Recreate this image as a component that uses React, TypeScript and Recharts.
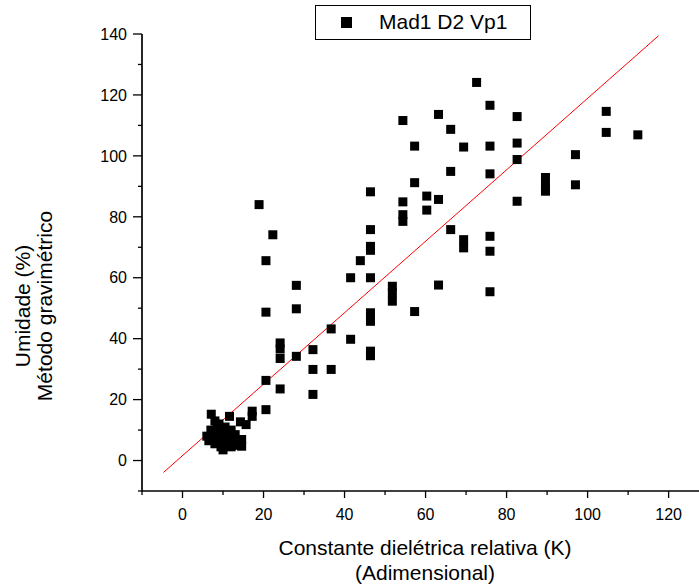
import { ScatterChart, Scatter, XAxis, YAxis, Label, Legend } from 'recharts';

const FONT = 'Arial, "Liberation Sans", sans-serif';

// Constante dielétrica relativa (K)
const kValues = [
  7.1, 11.6, 8, 9, 14.3, 15.7, 17.2, 17.2, 20.6,
  6, 6.5, 7, 7.5, 8, 8, 8.5, 9, 9.5, 9.5, 10, 10, 10.5, 10.5, 11, 11, 11.5, 12, 12, 12.5, 13, 13.5, 14.6, 14.6,
  18.9, 22.3, 20.6, 20.6, 28.1, 28.1, 20.6, 24.1, 24.1, 24.1, 24.1, 28.1, 32.2, 32.2, 32.2,
  36.7, 36.7, 41.5, 41.5, 43.9, 46.4, 46.4, 46.4, 46.4, 46.4, 46.4, 46.4, 46.4, 46.4,
  51.8, 51.8, 51.8, 54.4, 54.4, 54.4, 54.4, 57.3, 57.3, 57.3, 60.3, 60.3, 63.2, 63.2, 63.2,
  66.2, 66.2, 66.2, 69.4, 69.4, 69.4, 72.6, 75.9, 75.9, 75.9, 75.9, 75.9, 75.9,
  82.6, 82.6, 82.6, 82.6, 89.6, 89.6, 89.6, 97, 97, 104.6, 104.6, 112.4,
];

// Umidade (%) - método gravimétrico
const umidade = [
  15.2, 14.5, 13, 12, 12.7, 11.8, 16.2, 14.5, 16.7,
  8, 6.5, 10, 7, 9, 5.5, 11, 7.5, 4.5, 9.5, 6, 3.5, 11, 8, 5, 9.5, 7, 10, 4.5, 6, 8.5, 5, 6.9, 4.7,
  84, 74.1, 65.6, 48.7, 57.5, 49.8, 26.3, 38.6, 36.6, 33.5, 23.5, 34.2, 36.4, 29.9, 21.7,
  43.2, 29.9, 39.8, 60, 65.6, 88.2, 75.8, 70.3, 69, 60, 48.5, 45.7, 35.9, 34.4,
  57.2, 55, 52.3, 111.6, 84.9, 80.7, 78.5, 103.2, 91.2, 48.9, 86.8, 82.2, 113.6, 85.7, 57.6,
  108.7, 94.9, 75.8, 102.9, 72.5, 69.8, 124.1, 116.6, 103.2, 94.1, 73.6, 68.7, 55.4,
  112.9, 104.2, 98.8, 85.1, 92.9, 90, 88.4, 100.4, 90.5, 114.6, 107.7, 106.9,
];

// linear fit, end points
const fitK = [-4.7, 117.5];
const fitU = [-3.9, 139.4];

const xTicks = [-10, 0, 10, 20, 30, 40, 50, 60, 70, 80, 90, 100, 110, 120];
const yTicks = [-10, 0, 10, 20, 30, 40, 50, 60, 70, 80, 90, 100, 110, 120, 130, 140];

const points = kValues.map((k, i) => ({ k, u: umidade[i] }));
const fitLine = fitK.map((k, i) => ({ k, u: fitU[i] }));

function XTick(props: any) {
  const { x, y, payload } = props;
  const major = payload.value % 20 === 0;
  return (
    <g>
      <line x1={x} y1={y} x2={x} y2={y + (major ? 7 : 4)} stroke="#000" strokeWidth={1.3} />
      {major && (
        <text x={x} y={y + 29} textAnchor="middle" fontSize={16} fontFamily={FONT} fill="#000">
          {payload.value}
        </text>
      )}
    </g>
  );
}

function YTick(props: any) {
  const { x, y, payload } = props;
  const major = payload.value % 20 === 0;
  return (
    <g>
      <line x1={x - (major ? 9 : 4)} y1={y} x2={x} y2={y} stroke="#000" strokeWidth={1.3} />
      {major && (
        <text x={x - 15} y={y} dy="0.36em" textAnchor="end" fontSize={16} fontFamily={FONT} fill="#000">
          {payload.value}
        </text>
      )}
    </g>
  );
}

const square = (p: any) => <rect x={p.cx - 4.5} y={p.cy - 4.5} width={9} height={9} fill="#000" />;

function LegendBox() {
  return (
    <div
      style={{
        boxSizing: 'border-box',
        position: 'relative',
        width: 216,
        height: 35,
        border: '1px solid #000',
        background: '#fff',
        fontFamily: FONT,
        fontSize: 21,
        color: '#000',
      }}
    >
      <div style={{ position: 'absolute', left: 25, top: 11, width: 11, height: 11, background: '#000' }} />
      <span style={{ position: 'absolute', left: 63, top: 5, lineHeight: '21px', whiteSpace: 'nowrap' }}>
        Mad1 D2 Vp1
      </span>
    </div>
  );
}

export default function App() {
  return (
    <div style={{ position: 'absolute', left: 0, top: 0, width: 699, height: 586, background: '#fff' }}>
      <ScatterChart width={699} height={586} margin={{ top: 34, right: 0, bottom: 0, left: 0 }}>
        <XAxis
          type="number"
          dataKey="k"
          domain={[-10, 127.5]}
          allowDataOverflow
          ticks={xTicks}
          interval={0}
          height={95}
          tickSize={0}
          tickMargin={0}
          tickLine={false}
          axisLine={{ stroke: '#000', strokeWidth: 1.7 }}
          tick={XTick}
        >
          <Label
            content={() => (
              <g fontFamily={FONT} fontSize={21} fill="#000">
                <text x={425} y={555} textAnchor="middle">Constante dielétrica relativa (K)</text>
                <text x={425} y={580} textAnchor="middle">(Adimensional)</text>
              </g>
            )}
          />
        </XAxis>
        <YAxis
          type="number"
          dataKey="u"
          domain={[-10, 140]}
          allowDataOverflow
          ticks={yTicks}
          interval={0}
          width={142}
          tickSize={0}
          tickMargin={0}
          tickLine={false}
          axisLine={{ stroke: '#000', strokeWidth: 1.7 }}
          tick={YTick}
        >
          <Label
            content={() => (
              <g fontFamily={FONT} fontSize={21} fill="#000">
                <text x={30} y={306} textAnchor="middle" transform="rotate(-90, 30, 306)">Umidade (%)</text>
                <text x={52} y={306} textAnchor="middle" transform="rotate(-90, 52, 306)">Método gravimétrico</text>
              </g>
            )}
          />
        </YAxis>
        <Legend
          layout="horizontal"
          verticalAlign="middle"
          align="center"
          wrapperStyle={{ left: 315, top: 5, width: 216, height: 35 }}
          content={() => <LegendBox />}
        />
        <Scatter data={fitLine} line={{ stroke: '#ff0000', strokeWidth: 1 }} shape={() => <g />} isAnimationActive={false} legendType="none" />
        <Scatter data={points} shape={square} fill="#000" isAnimationActive={false} />
      </ScatterChart>
    </div>
  );
}
